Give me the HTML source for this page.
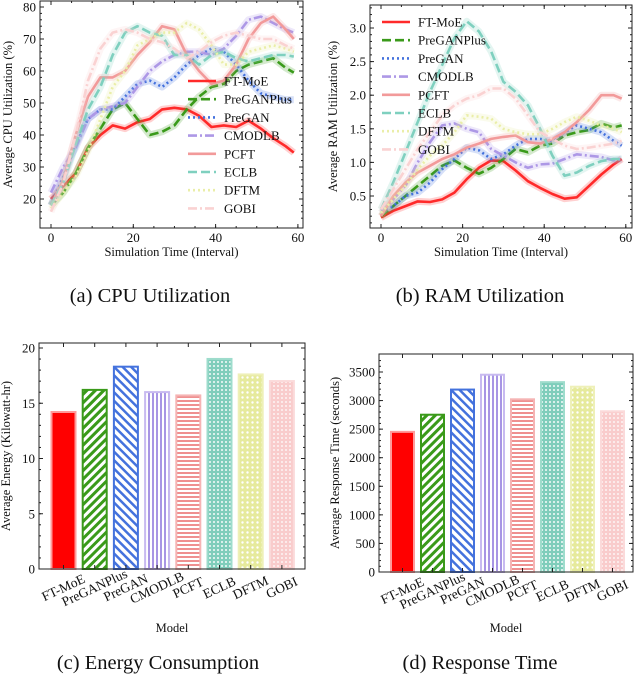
<!DOCTYPE html>
<html><head><meta charset="utf-8">
<style>
html,body{margin:0;padding:0;background:#fff;}
svg{display:block;font-family:"Liberation Serif",serif;}
</style></head>
<body>
<svg id="fig" width="636" height="676" viewBox="0 0 636 676" xmlns="http://www.w3.org/2000/svg">
<defs>
 <pattern id="p-green" width="6" height="6" patternUnits="userSpaceOnUse" patternTransform="rotate(45)"><rect width="6" height="6" fill="#fff"/><rect width="3" height="6" fill="#3a9a1a"/></pattern>
 <pattern id="p-blue" width="6" height="6" patternUnits="userSpaceOnUse" patternTransform="rotate(-45)"><rect width="6" height="6" fill="#fff"/><rect width="2.5" height="6" fill="#4472dd"/></pattern>
 <pattern id="p-purple" width="4" height="4" patternUnits="userSpaceOnUse"><rect width="4" height="4" fill="#fff"/><rect width="2" height="4" fill="#a895e4"/></pattern>
 <pattern id="p-salmon" width="4" height="4" patternUnits="userSpaceOnUse"><rect width="4" height="4" fill="#fff"/><rect width="4" height="2" fill="#ef9090"/></pattern>
 <pattern id="p-teal" width="4" height="4" patternUnits="userSpaceOnUse"><rect width="4" height="4" fill="#7fcdbb"/><rect x="1" y="1" width="2" height="2" fill="#fff" opacity="0.7"/></pattern>
 <pattern id="p-yellow" width="5" height="5" patternUnits="userSpaceOnUse"><rect width="5" height="5" fill="#e6ea9c"/><circle cx="2.5" cy="2.5" r="1.2" fill="#fff"/></pattern>
 <pattern id="p-pink" width="4" height="4" patternUnits="userSpaceOnUse"><rect width="4" height="4" fill="#f9cccc"/><circle cx="2" cy="2" r="0.9" fill="#fff"/></pattern>
</defs>
</svg>
<script>
const T = [0,3,6,9,12,15,18,21,24,27,30,33,36,39,42,45,48,51,54,57,59];
const seriesNames = ["FT-MoE","PreGANPlus","PreGAN","CMODLB","PCFT","ECLB","DFTM","GOBI"];
const cpuFTMoE = [20,24,28,36,40,43,42,44,45,48,48.5,48,46,42.5,43,42.5,44.5,42,39,36.5,34.5];
const cpuPreGANPlus = [18,22,28,36,42,48,50,45,40,41,43,48,52,55,56,60,62,63,64,61,59.5];
const cpuPreGAN = [18,27,37,45,48,48,52,56,57,55,58,62,65,67,66,62,57,53,52,51,51];
const cpuCMODLB = [22,30,36,45,48,49,50,55,60,63,65,66,66,65,67,71,76,77,75,73,72];
const cpuPCFT = [18,26,40,52,58,58,60,65,69,74,73,65,60,56,57,62,70,75,77,73,70];
const cpuECLB = [18,25,37,48,55,65,72,74,72,71,65,65,62,65,66,64,63,64,65,65,64.5];
const cpuDFTM = [17,22,27,35,45,55,60,68,70,72,72,75,73,68,62,62,66,67,68,67,66];
const cpuGOBI = [16,25,40,57,67,72,73,72,70,69,67,64,66,69,71,72,71,70,70,68,67];
const ramFTMoE = [0.18,0.28,0.35,0.42,0.41,0.45,0.55,0.75,0.92,1.03,1.02,0.88,0.72,0.62,0.53,0.46,0.48,0.65,0.82,0.97,1.05];
const ramPreGANPlus = [0.2,0.35,0.5,0.65,0.8,0.95,1.03,0.92,0.83,0.92,1.05,1.2,1.15,1.25,1.28,1.4,1.45,1.48,1.58,1.52,1.55];
const ramPreGAN = [0.28,0.35,0.5,0.55,0.7,0.9,1.05,1.22,1.18,1.05,1.12,1.25,1.35,1.35,1.32,1.45,1.55,1.5,1.45,1.32,1.25];
const ramCMODLB = [0.25,0.45,0.65,1.0,1.3,1.55,1.58,1.5,1.45,1.2,1.1,1.0,0.92,0.97,0.98,1.05,1.12,1.1,1.08,1.03,1.05];
const ramPCFT = [0.2,0.5,0.7,0.85,0.95,1.05,1.12,1.22,1.28,1.35,1.38,1.4,1.3,1.28,1.35,1.45,1.6,1.78,2.0,2.0,1.95];
const ramECLB = [0.3,0.7,1.15,1.6,2.05,2.45,2.85,3.1,2.95,2.65,2.2,2.05,1.85,1.5,1.1,0.8,0.85,0.95,1.02,1.05,1.05];
const ramDFTM = [0.25,0.45,0.65,0.9,1.1,1.25,1.45,1.7,1.68,1.65,1.5,1.45,1.42,1.42,1.5,1.6,1.68,1.62,1.55,1.5,1.45];
const ramGOBI = [0.3,0.6,0.9,1.2,1.45,1.7,1.85,1.95,2.0,2.1,2.1,1.95,1.7,1.45,1.35,1.25,1.2,1.22,1.25,1.28,1.32];
const energyValues = [14.3,16.3,18.4,16.1,15.8,19.1,17.7,17.1];
const responseValues = [2470,2770,3210,3470,3040,3340,3260,2830];
const cpuTicks = ["20","30","40","50","60","70","80"];
const ramTicks = ["0.5","1.0","1.5","2.0","2.5","3.0"];
const timeTicks = ["0","20","40","60"];
const energyTicks = ["0","5","10","15","20"];
const respTicks = ["0","500","1000","1500","2000","2500","3000","3500"];

const colors = ["#ff2a2a","#3a9a1a","#4472dd","#ad98e6","#f29a9a","#7fd0bf","#eaeea8","#fad2d2"];
const dashes = ["", "9,4", "2,3", "9,3,2,3", "", "9,4", "2,3", "9,3,2,3"];
const fills = ["#ff0000","url(#p-green)","url(#p-blue)","url(#p-purple)","url(#p-salmon)","url(#p-teal)","url(#p-yellow)","url(#p-pink)"];
const edges = ["#ff9a9a","#3a9a1a","#4472dd","#c8baf0","#f5b4b4","#9edccc","#eef0b8","#fbdada"];

const svg = document.getElementById('fig');
const NS = "http://www.w3.org/2000/svg";
function mk(tag, attrs, parent){const e=document.createElementNS(NS,tag);for(const k in attrs)e.setAttribute(k,attrs[k]);(parent||svg).appendChild(e);return e;}
function txt(s, attrs, parent){const e=mk('text',attrs,parent);e.textContent=s;return e;}

function axes(g, x0,x1,y0,y1, xs, ys, xt, yt, xMinor, yMinor){
  mk('rect',{x:x0,y:y0,width:x1-x0,height:y1-y0,fill:'none',stroke:'#222','stroke-width':1},g);
  yt.forEach(s=>{const y=ys(parseFloat(s));
    mk('line',{x1:x0,x2:x0+4,y1:y,y2:y,stroke:'#222'},g);
    mk('line',{x1:x1,x2:x1-4,y1:y,y2:y,stroke:'#222'},g);
    const t=txt(s,{x:x0-4,y:y+4.5,'font-size':13,'text-anchor':'end',fill:'#111'},g);
    
    
  });
  yMinor.forEach(v=>{const y=ys(v);if(y<y0||y>y1)return;
    mk('line',{x1:x0,x2:x0+2,y1:y,y2:y,stroke:'#222'},g);
    mk('line',{x1:x1,x2:x1-2,y1:y,y2:y,stroke:'#222'},g);});
  if(xt){xt.forEach(s=>{const x=xs(parseFloat(s));
    mk('line',{x1:x,x2:x,y1:y1,y2:y1-4,stroke:'#222'},g);
    mk('line',{x1:x,x2:x,y1:y0,y2:y0+4,stroke:'#222'},g);
    const t=txt(s,{x:x,y:y1+14,'font-size':13,'text-anchor':'middle',fill:'#111'},g);
    
    
  });}
  xMinor.forEach(v=>{const x=xs(v);if(x<x0||x>x1)return;
    mk('line',{x1:x,x2:x,y1:y1,y2:y1-2,stroke:'#222'},g);
    mk('line',{x1:x,x2:x,y1:y0,y2:y0+2,stroke:'#222'},g);});
}
function range(a,b,s){const r=[];for(let v=a;v<=b+1e-9;v+=s)r.push(+v.toFixed(4));return r;}

function lineChart(name, box, xs, ys, data, yt, yMinor, ytitle, ytx, legend){
  const g=mk('g',{});
  
  
  const clip=mk('clipPath',{id:'clip-'+name},g);
  mk('rect',{x:box[0],y:box[2],width:box[1]-box[0],height:box[3]-box[2]},clip);
  const lg=mk('g',{'clip-path':'url(#clip-'+name+')'},g);
  data.forEach((arr,i)=>{
    const d=arr.map((v,j)=>(j?'L':'M')+xs(T[j]).toFixed(1)+','+ys(v).toFixed(1)).join('');
    mk('path',{d:d,fill:'none',stroke:colors[i],'stroke-width':7,'stroke-opacity':0.22,'stroke-linejoin':'round'},lg);
    const p=mk('path',{d:d,fill:'none',stroke:colors[i],'stroke-width':2.6,'stroke-dasharray':dashes[i],'stroke-linejoin':'round'},lg);
    
    
  });
  axes(g,box[0],box[1],box[2],box[3],xs,ys,timeTicks,yt,range(0,60,5),yMinor);
  const cy=(box[2]+box[3])/2;
  const yl=txt(ytitle,{x:ytx,y:cy,'font-size':12.5,'text-anchor':'middle',transform:`rotate(-90 ${ytx} ${cy})`,fill:'#111'},g);
  
  
  const xl=txt('Simulation Time (Interval)',{x:(box[0]+box[1])/2,y:box[3]+28,'font-size':12.5,'text-anchor':'middle',fill:'#111'},g);
  
  
  const lgd=mk('g',{},g);
  
  
  seriesNames.forEach((n,i)=>{
    const y=legend[2]+i*legend[3];
    const e=mk('g',{},lgd);
    
    
    mk('line',{x1:legend[0],x2:legend[0]+28,y1:y,y2:y,stroke:colors[i],'stroke-width':2.6,'stroke-dasharray':dashes[i]},e);
    txt(n,{x:legend[1],y:y+4.5,'font-size':13,fill:'#111'},e);
  });
}

const xsA=t=>51+t*4.115, ysA=v=>7+(80-v)*3.2;
lineChart('cpu-chart',[40,303,1,228],xsA,ysA,[cpuFTMoE,cpuPreGANPlus,cpuPreGAN,cpuCMODLB,cpuPCFT,cpuECLB,cpuDFTM,cpuGOBI],cpuTicks,range(14,80,2),'Average CPU Utilization (%)',12,[188,224,81,18.2]);
const xsB=t=>381+t*4.08, ysB=v=>28+(3-v)*67.2;
lineChart('ram-chart',[370,632,5,228],xsB,ysB,[ramFTMoE,ramPreGANPlus,ramPreGAN,ramCMODLB,ramPCFT,ramECLB,ramDFTM,ramGOBI],ramTicks,range(0.1,3.3,0.1),'Average RAM Utilization (%)',337,[382,418,22,18.2]);

function barChart(name, box, ys, vals, yt, yMinor, ytitle, ytx, c0, step, bw){
  const g=mk('g',{});
  
  
  const xs=i=>c0+i*step;
  vals.forEach((v,i)=>{
    const y=ys(v), h=ys(0)-y;
    const r=mk('rect',{x:xs(i)-bw/2+1,y:y+1,width:bw-2,height:h-1,fill:fills[i],stroke:edges[i],'stroke-width':2},g);
    
    
  });
  axes(g,box[0],box[1],box[2],box[3],xs,ys,null,yt,[],yMinor);
  seriesNames.forEach((n,i)=>{
    const x=xs(i), y=box[3]+23;
    mk('line',{x1:x,x2:x,y1:box[3],y2:box[3]-4,stroke:'#222'},g);
    mk('line',{x1:x,x2:x,y1:box[2],y2:box[2]+4,stroke:'#222'},g);
    const t=txt(n,{x:x,y:y,'font-size':13.5,'text-anchor':'middle',transform:`rotate(-25 ${x} ${y-4})`,fill:'#111'},g);
    
    
  });
  const cy=(box[2]+box[3])/2;
  const yl=txt(ytitle,{x:ytx,y:cy,'font-size':12.5,'text-anchor':'middle',transform:`rotate(-90 ${ytx} ${cy})`,fill:'#111'},g);
  
  
  const xl=txt('Model',{x:(box[0]+box[1])/2,y:632,'font-size':12.5,'text-anchor':'middle',fill:'#111'},g);
  
  
}
const ysC=v=>569-v*11.05;
barChart('energy-chart',[39,305,343,569],ysC,energyValues,energyTicks,range(0,21,1),'Average Energy (Kilowatt-hr)',10,63.5,31.2,26);
const ysD=v=>572-v*200/3500;
barChart('response-chart',[379,633,354,572],ysD,responseValues,respTicks,range(0,3700,100),'Average Response Time (seconds)',339,402.5,30,25);

const caps=[['(a)  CPU Utilization',150,302,'caption-a'],['(b)  RAM Utilization',480,302,'caption-b'],['(c)  Energy Consumption',158,669,'caption-c'],['(d)  Response Time',480,669,'caption-d']];
caps.forEach(c=>{
  const t=txt(c[0],{x:c[1],y:c[2],'font-size':20.5,'text-anchor':'middle',fill:'#111'});
  
  
});
</script>
</body></html>
